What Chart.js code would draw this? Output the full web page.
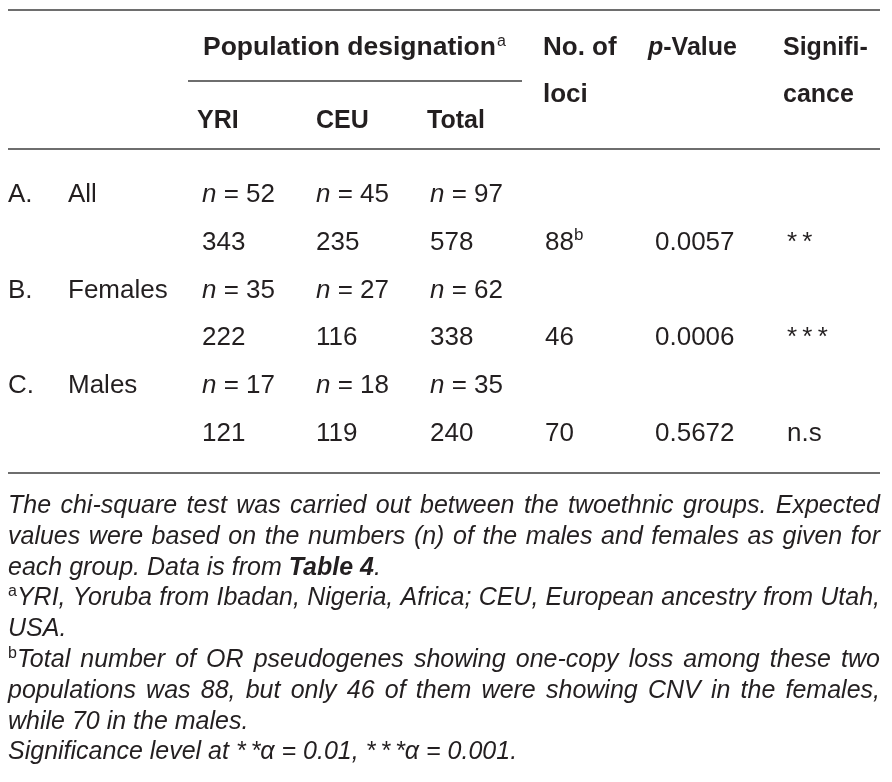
<!DOCTYPE html>
<html>
<head>
<meta charset="utf-8">
<script src="https://cdn.jsdelivr.net/npm/chart.js@4.4.1/dist/chart.umd.min.js"></script>
<style>
  html, body { margin: 0; padding: 0; background: #fff; }
  canvas { display: block; }
</style>
</head>
<body>
<canvas id="table" width="892" height="782"></canvas>
<script>
// table values
const groupLetters = ["A.", "B.", "C."];
const groupNames = ["All", "Females", "Males"];
const nYRI = [52, 35, 17];
const nCEU = [45, 27, 18];
const nTotal = [97, 62, 35];
const countYRI = [343, 222, 121];
const countCEU = [235, 116, 119];
const countTotal = [578, 338, 240];
const lociCount = [88, 46, 70];
const lociNote = ["b", "", ""];
const pValues = ["0.0057", "0.0006", "0.5672"];
const significance = ["*\u2009*", "*\u2009*\u2009*", "n.s"];

// each group takes two rows: the n row and the count row
const rowKeys = ["A-n", "A", "B-n", "B", "C-n", "C"];

const footnotes = [
  { justify: true, runs: [{ t: "The chi-square test was carried out between the twoethnic groups. Expected" }] },
  { justify: true, runs: [{ t: "values were based on the numbers (n) of the males and females as given for" }] },
  { justify: false, runs: [{ t: "each group. Data is from " }, { t: "Table 4", bold: true }, { t: "." }] },
  { justify: true, runs: [{ t: "a", sup: true }, { t: "YRI, Yoruba from Ibadan, Nigeria, Africa; CEU, European ancestry from Utah," }] },
  { justify: false, runs: [{ t: "USA." }] },
  { justify: true, runs: [{ t: "b", sup: true }, { t: "Total number of OR pseudogenes showing one-copy loss among these two" }] },
  { justify: true, runs: [{ t: "populations was 88, but only 46 of them were showing CNV in the females," }] },
  { justify: false, runs: [{ t: "while 70 in the males." }] },
  { justify: false, runs: [{ t: "Significance level at *\u2009*\u03b1 = 0.01, *\u2009*\u2009*\u03b1 = 0.001." }] }
];

// layout
const FAMILY = '"Liberation Sans", Arial, Helvetica, sans-serif';
const INK = "#231f20";
const RULE = "#6e6e6e";
const colX = { letter: 8, name: 68, yri: 202, ceu: 316, total: 430, loci: 545, p: 655, sig: 787 };
const left = 8, right = 880;
const bodySize = 26, headSize = 25, footSize = 25;
const footTop = 513, footStep = 30.8;

function font(size, weight, style) {
  return (style || "normal") + " " + (weight || "normal") + " " + size + "px " + FAMILY;
}

function nCell(v) { return [{ t: "n", italic: true }, { t: " = " + v }]; }
function plain(v) { return [{ t: String(v) }]; }

function pairColumn(x, nVals, counts) {
  const data = [], runs = [];
  nVals.forEach((v, i) => {
    data.push({ x: x, y: rowKeys[2 * i] });
    runs.push(nCell(v));
    data.push({ x: x, y: rowKeys[2 * i + 1] });
    runs.push(plain(counts[i]));
  });
  return { data, runs };
}

function countColumn(x, vals, notes) {
  return {
    data: vals.map((v, i) => ({ x: x, y: rowKeys[2 * i + 1] })),
    runs: vals.map((v, i) => notes && notes[i] ? [{ t: String(v) }, { t: notes[i], sup: true }] : plain(v))
  };
}

function groupColumn(x, vals) {
  return {
    data: vals.map((v, i) => ({ x: x, y: rowKeys[2 * i] })),
    runs: vals.map(v => plain(v))
  };
}

const columns = [
  groupColumn(colX.letter, groupLetters),
  groupColumn(colX.name, groupNames),
  pairColumn(colX.yri, nYRI, countYRI),
  pairColumn(colX.ceu, nCEU, countCEU),
  pairColumn(colX.total, nTotal, countTotal),
  countColumn(colX.loci, lociCount, lociNote),
  countColumn(colX.p, pValues),
  countColumn(colX.sig, significance)
];

function drawRuns(ctx, runs, x, y, size, base) {
  base = base || {};
  runs.forEach(r => {
    const bold = r.bold !== undefined ? r.bold : base.bold;
    const italic = r.italic !== undefined ? r.italic : base.italic;
    let s = size, yy = y;
    if (r.sup) { s = Math.round(size * 0.64); yy = y - size * 0.36; }
    ctx.font = font(s, bold ? "bold" : "normal", italic ? "italic" : "normal");
    ctx.fillText(r.t, x, yy);
    x += ctx.measureText(r.t).width;
  });
  return x;
}

function drawJustified(ctx, runs, y, size) {
  let x = left;
  const textRun = runs[runs.length - 1];
  if (runs.length > 1 && runs[0].sup) {
    x = drawRuns(ctx, [runs[0]], x, y, size, { italic: false });
  }
  ctx.font = font(size, "normal", "italic");
  const words = textRun.t.split(" ");
  const widths = words.map(w => ctx.measureText(w).width);
  const total = widths.reduce((a, b) => a + b, 0);
  const gap = (right - x - total) / (words.length - 1);
  words.forEach((w, i) => {
    ctx.fillText(w, x, y);
    x += widths[i] + gap;
  });
}

function hline(ctx, x0, x1, y) {
  ctx.beginPath();
  ctx.moveTo(x0, y);
  ctx.lineTo(x1, y);
  ctx.stroke();
}

const tablePlugin = {
  id: "tableText",
  beforeDraw(chart) {
    const ctx = chart.ctx;
    ctx.save();
    ctx.fillStyle = "#fff";
    ctx.fillRect(0, 0, chart.width, chart.height);
    ctx.restore();
  },
  afterDatasetsDraw(chart) {
    const ctx = chart.ctx;
    ctx.save();
    ctx.textBaseline = "alphabetic";
    ctx.textAlign = "left";
    ctx.fillStyle = INK;

    // rules
    ctx.strokeStyle = RULE;
    ctx.lineWidth = 2;
    hline(ctx, left, right, 10);
    hline(ctx, 188, 522, 81);
    hline(ctx, left, right, 149);
    hline(ctx, left, right, 473);

    // column heads
    drawRuns(ctx, [{ t: "Population designation" }], 203, 55, 26.5, { bold: true });
    ctx.font = font(26.5, "bold");
    const supX = 203 + ctx.measureText("Population designation").width + 1;
    drawRuns(ctx, [{ t: "a", sup: true }], supX, 55, headSize, { bold: false });
    drawRuns(ctx, [{ t: "No. of" }], 543, 55, 26, { bold: true });
    drawRuns(ctx, [{ t: "loci" }], 543, 102, 26, { bold: true });
    drawRuns(ctx, [{ t: "p", italic: true }, { t: "-Value" }], 648, 55, headSize, { bold: true });
    drawRuns(ctx, [{ t: "Signifi-" }], 783, 55, headSize, { bold: true });
    drawRuns(ctx, [{ t: "cance" }], 783, 102, headSize, { bold: true });
    drawRuns(ctx, [{ t: "YRI" }], 197, 128, headSize, { bold: true });
    drawRuns(ctx, [{ t: "CEU" }], 316, 128, headSize, { bold: true });
    drawRuns(ctx, [{ t: "Total" }], 427, 128, headSize, { bold: true });

    // body cells, placed by the scales
    chart.data.datasets.forEach((ds, di) => {
      const meta = chart.getDatasetMeta(di);
      meta.data.forEach((pt, i) => {
        drawRuns(ctx, ds.runs[i], pt.x, pt.y + 9, bodySize);
      });
    });

    // footnotes
    footnotes.forEach((line, i) => {
      const y = footTop + i * footStep;
      if (line.justify) {
        drawJustified(ctx, line.runs, y, footSize);
      } else {
        drawRuns(ctx, line.runs, left, y, footSize, { italic: true });
      }
    });
    ctx.restore();
  }
};

new Chart(document.getElementById("table"), {
  type: "scatter",
  data: {
    datasets: columns.map(c => ({
      data: c.data,
      runs: c.runs,
      pointRadius: 0,
      pointHoverRadius: 0
    }))
  },
  options: {
    responsive: false,
    animation: false,
    events: [],
    layout: { padding: { top: 169, bottom: 326, left: 0, right: 0 } },
    scales: {
      x: { type: "linear", min: 0, max: 892, display: false },
      y: { type: "category", labels: rowKeys, offset: true, display: false }
    },
    plugins: {
      legend: { display: false },
      tooltip: { enabled: false }
    }
  },
  plugins: [tablePlugin]
});
</script>
</body>
</html>
